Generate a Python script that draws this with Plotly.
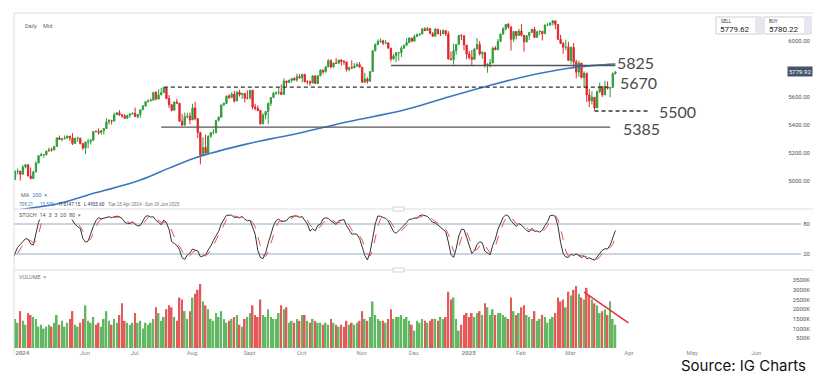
import numpy as np
import pandas as pd
import plotly.graph_objects as go

# ---------------- data ----------------
HOLIDAYS = ["2024-05-27", "2024-06-19", "2024-07-04", "2024-09-02", "2024-11-28",
            "2024-12-25", "2025-01-01", "2025-01-09", "2025-01-20", "2025-02-17"]
FIRST_DAY = "2024-04-01"
LAST_DAY = "2025-03-25"
VIEW_START = "2024-04-23"

CLOSE = [
    5243, 5205, 5211, 5147, 5204, 5202, 5209, 5161, 5199, 5123, 5061, 5051, 5022, 5011, 4967, 5010,
    5070, 5071, 5048, 5100, 5116, 5035,
    5018, 5064, 5128, 5181, 5187, 5188, 5214, 5223, 5221, 5247, 5308, 5297, 5303, 5308, 5321, 5307, 5268, 5305, 5306, 5267, 5235, 5278,
    5283, 5291, 5354, 5353, 5347, 5360, 5375, 5421, 5434, 5431, 5473, 5487, 5473, 5465, 5448, 5469, 5478, 5483, 5460,
    5475, 5509, 5537, 5567, 5572, 5577, 5633, 5585, 5615, 5631, 5667, 5589, 5545, 5505, 5564, 5555, 5427, 5399, 5459, 5464, 5436, 5522,
    5446, 5347, 5186, 5240, 5199, 5319, 5344, 5344, 5434, 5455, 5543, 5554, 5608, 5597, 5620, 5571, 5635, 5617, 5626, 5592, 5592, 5648,
    5528, 5520, 5503, 5408, 5471, 5496, 5554, 5596, 5626, 5634, 5634, 5618, 5714, 5703, 5719, 5732, 5722, 5745, 5738, 5762,
    5709, 5709, 5700, 5751, 5696, 5751, 5792, 5780, 5815, 5859, 5815, 5842, 5841, 5864, 5853, 5851, 5797, 5809, 5808, 5823, 5832, 5813, 5705,
    5729, 5712, 5782, 5929, 5973, 5996, 6001, 5984, 5985, 5949, 5871, 5894, 5917, 5917, 5949, 5969, 5988, 6021, 5999, 6032,
    6047, 6050, 6087, 6075, 6090, 6053, 6034, 6085, 6051, 6051, 6074, 6051, 5872, 5867, 5931, 5975, 6040, 6038, 5971, 5907, 5882,
    5869, 5942, 5975, 5909, 5918, 5827, 5836, 5843, 5950, 5937, 5997, 6049, 6086, 6119, 6101, 6012, 6068, 6039, 6071, 6041,
    5994, 6038, 6061, 6084, 6026, 6066, 6069, 6052, 6115, 6115, 6129, 6144, 6118, 6013, 5983, 5955, 5956, 5861, 5955,
    5850, 5778, 5842, 5739, 5770, 5615, 5572, 5599, 5522, 5639, 5675, 5615, 5675, 5663, 5668, 5767, 5780,
]
HIGH = [
    5264, 5208, 5229, 5256, 5216, 5216, 5224, 5179, 5211, 5193, 5150, 5075, 5078, 5049, 5019, 5039,
    5076, 5089, 5057, 5114, 5123, 5110,
    5096, 5073, 5140, 5181, 5200, 5191, 5215, 5239, 5239, 5250, 5311, 5325, 5306, 5325, 5324, 5315, 5342, 5311, 5315, 5282, 5265, 5280,
    5302, 5299, 5355, 5362, 5376, 5362, 5376, 5448, 5441, 5433, 5488, 5490, 5506, 5478, 5478, 5472, 5483, 5491, 5524,
    5479, 5510, 5539, 5571, 5583, 5590, 5635, 5642, 5656, 5666, 5669, 5622, 5614, 5535, 5566, 5586, 5537, 5479, 5488, 5487, 5489, 5551,
    5566, 5403, 5312, 5312, 5330, 5327, 5351, 5371, 5434, 5463, 5546, 5562, 5608, 5620, 5633, 5644, 5642, 5651, 5628, 5628, 5647, 5651,
    5651, 5551, 5540, 5509, 5484, 5497, 5561, 5600, 5637, 5637, 5670, 5690, 5734, 5716, 5725, 5735, 5741, 5767, 5764, 5765,
    5758, 5720, 5718, 5753, 5740, 5757, 5797, 5795, 5822, 5871, 5870, 5846, 5878, 5866, 5868, 5864, 5843, 5817, 5862, 5843, 5848, 5850, 5775,
    5772, 5741, 5783, 5937, 5983, 6012, 6018, 6009, 6008, 5993, 5930, 5908, 5919, 5921, 5963, 5973, 6020, 6025, 6021, 6045,
    6053, 6053, 6089, 6099, 6100, 6088, 6065, 6093, 6079, 6079, 6085, 6057, 6070, 5925, 5982, 5979, 6041, 6049, 6007, 5941, 5929,
    5936, 5949, 6021, 6000, 5927, 5897, 5838, 5871, 5960, 5964, 6014, 6051, 6100, 6119, 6128, 6018, 6071, 6062, 6087, 6121,
    6023, 6042, 6062, 6084, 6101, 6073, 6076, 6064, 6116, 6127, 6130, 6147, 6134, 6119, 6044, 5992, 6009, 5994, 5960,
    5986, 5866, 5860, 5812, 5783, 5706, 5656, 5642, 5598, 5645, 5704, 5670, 5716, 5711, 5670, 5775, 5783,
]
LOW = [
    5229, 5184, 5185, 5146, 5157, 5196, 5160, 5139, 5158, 5118, 5059, 5039, 5008, 5001, 4954, 4991,
    5028, 5047, 5003, 5074, 5089, 5035,
    5012, 5013, 5095, 5143, 5178, 5166, 5180, 5210, 5209, 5224, 5264, 5296, 5284, 5297, 5302, 5286, 5257, 5278, 5280, 5262, 5222, 5192,
    5235, 5261, 5303, 5346, 5331, 5330, 5332, 5395, 5403, 5403, 5421, 5474, 5465, 5452, 5447, 5447, 5452, 5475, 5460,
    5446, 5451, 5510, 5530, 5562, 5574, 5587, 5576, 5596, 5614, 5639, 5584, 5522, 5497, 5518, 5554, 5426, 5391, 5430, 5448, 5405, 5492,
    5434, 5306, 5119, 5193, 5196, 5233, 5310, 5333, 5366, 5425, 5497, 5535, 5551, 5585, 5591, 5560, 5590, 5603, 5585, 5561, 5583, 5582,
    5511, 5503, 5498, 5403, 5434, 5441, 5406, 5536, 5604, 5615, 5614, 5615, 5672, 5674, 5705, 5703, 5716, 5709, 5730, 5704,
    5704, 5689, 5680, 5703, 5695, 5707, 5752, 5764, 5775, 5815, 5804, 5809, 5840, 5847, 5824, 5830, 5782, 5784, 5800, 5818, 5814, 5812, 5704,
    5723, 5696, 5722, 5871, 5947, 5971, 5987, 5970, 5981, 5946, 5853, 5866, 5850, 5860, 5885, 5945, 5973, 5993, 5993, 6023,
    6027, 6035, 6062, 6070, 6077, 6049, 6030, 6060, 6051, 6035, 6059, 6036, 5868, 5865, 5832, 5902, 5982, 6007, 5933, 5869, 5868,
    5829, 5888, 5960, 5897, 5874, 5810, 5773, 5811, 5884, 5938, 5984, 6006, 6076, 6075, 6088, 5932, 5994, 6012, 6040, 6031,
    5924, 5990, 6007, 6060, 6020, 6048, 6042, 6003, 6070, 6107, 6108, 6111, 6084, 6008, 5978, 5909, 5933, 5858, 5837,
    5810, 5733, 5745, 5732, 5667, 5565, 5529, 5547, 5505, 5562, 5628, 5601, 5622, 5652, 5598, 5714, 5760,
]
# volume (thousands) for the visible days, 23 Apr 2024 onward
VOLUME_K = [
    1500, 1300, 1900, 1400, 1200, 1800,
    1700, 1600, 1500, 1100, 1200, 1000, 1100, 1200, 1100, 1300, 1700, 1200, 1400, 1100, 1300, 1500, 1900, 1200, 1100, 1300, 1500, 2200,
    1400, 1300, 1600, 1200, 1300, 1100, 1500, 1900, 1400, 1200, 1500, 1300, 1700, 2300, 1400, 1300, 1200, 1300, 1800,
    1300, 1400, 1000, 1300, 1200, 1300, 1500, 2100, 1800, 1400, 1600, 2000, 2200, 2100, 1600, 1400, 2600, 2500, 1900, 1500, 1900, 2600,
    2800, 3000, 3300, 2400, 2200, 2000, 1500, 1400, 1800, 1600, 1900, 1500, 1300, 1400, 1500, 1600, 1700, 1200, 1100, 1500, 1600, 1800,
    2200, 1700, 1600, 2500, 1700, 1600, 2000, 1600, 1500, 1500, 1800, 2200, 2000, 2100, 1300, 1400, 1300, 1500, 1400, 1700,
    1700, 1400, 1300, 1500, 1400, 1300, 1300, 1200, 1300, 1200, 1500, 1300, 1200, 1100, 1200, 1100, 1400, 1200, 1300, 1200, 1300, 1400, 1900,
    1500, 1400, 1600, 2400, 1700, 1500, 1400, 1400, 1300, 1500, 2000, 1500, 1600, 1600, 1700, 1500, 1600, 1400, 1200, 900,
    1400, 1300, 1500, 1400, 1300, 1400, 1500, 1500, 1400, 1600, 1500, 1600, 2900, 2500, 2600, 1500, 900, 1200, 1700, 1800, 1600,
    1800, 1600, 1800, 1900, 1700, 2300, 2100, 1700, 2000, 1700, 1800, 1800, 1700, 1600, 1500, 2600, 1900, 1700, 1800, 2100,
    2200, 1700, 1600, 1500, 1900, 1400, 1500, 1700, 1600, 1300, 1500, 1600, 1800, 2600, 2400, 2500, 2100, 2900, 2700,
    3000, 3200, 2800, 2600, 2500, 3100, 2700, 2500, 2300, 2200, 1800, 1900, 2000, 1700, 2400, 1500, 1200,
]
# 200-day moving average
MA_DATES = ["2024-04-23", "2024-05-03", "2024-05-15", "2024-06-03", "2024-07-02", "2024-07-18",
            "2024-08-01", "2024-08-29", "2024-09-27", "2024-10-24", "2024-11-22", "2024-12-18",
            "2025-01-08", "2025-02-03", "2025-02-27", "2025-03-13", "2025-03-25"]
MA_VALUES = [4790, 4812, 4836, 4900, 5007, 5092, 5165, 5265, 5343, 5425, 5507, 5600,
             5668, 5745, 5805, 5826, 5836]

# annotated levels: (value, start date, end date, dashed)
LEVELS = [(5825, "2024-11-15", "2025-03-25", False),
          (5670, "2024-07-16", "2025-03-20", True),
          (5500, "2025-03-13", "2025-04-11", True),
          (5385, "2024-07-15", "2025-03-21", False)]
LEVEL_LABELS = [("5825", "2025-03-25", 5825, 3),
                ("5670", "2025-03-26", 5670, 5),
                ("5500", "2025-04-16", 5500, 0),
                ("5385", "2025-03-27", 5385, -1)]
VOL_TREND = [("2025-03-07", 2880), ("2025-04-01", 1290)]

SELL, BUY, LAST = "5779.62", "5780.22", 5779.92
PRICE_TICKS = [5000, 5200, 5400, 5600, 6000]   # 5800 sits under the last-price tag
VOL_TICKS = [500, 1000, 1500, 2000, 2500, 3000, 3500]
FUTURE_TICKS = [("Apr", 235.2), ("May", 259.4), ("Jun", 283.9)]

# ---------------- derived ----------------
dates = pd.bdate_range(FIRST_DAY, LAST_DAY)
dates = dates[~dates.isin(pd.to_datetime(HOLIDAYS))]
n_pre = int((dates < pd.Timestamp(VIEW_START)).sum())
idx = np.arange(len(dates)) - n_pre

C = np.array(CLOSE, float)
O = np.r_[C[0], C[:-1]]
Hh = np.maximum(np.array(HIGH, float), np.maximum(O, C))
Ll = np.minimum(np.array(LOW, float), np.minimum(O, C))


def pos(d):
    d = pd.Timestamp(d)
    if d <= dates[-1]:
        return float(np.searchsorted(dates, d) - n_pre)
    extra = np.busday_count(dates[-1].date(), d.date(), holidays=["2025-04-18"])
    return float(len(dates) - 1 - n_pre + extra)


hh = pd.Series(Hh).rolling(14).max()
ll = pd.Series(Ll).rolling(14).min()
raw = 100 * (pd.Series(C) - ll) / (hh - ll)
K = raw.rolling(3).mean()
D = K.rolling(3).mean()

vis = idx >= 0
vol_x = idx[vis]
vol_col = np.where(C[vis] >= O[vis], "#62b862", "#e25a5a")

# ---------------- layout geometry ----------------
W, Hgt = 825, 377
Lp, Rp, Tp, Bp = 14, 813, 13, 348


def px(x):
    return (x - Lp) / (Rp - Lp)


def py(y):
    return (Bp - y) / (Bp - Tp)


x_lo, x_hi = -0.4, 305.7
GREEN, RED = "#2f9e3a", "#e0262b"

fig = go.Figure()
fig.add_trace(go.Candlestick(
    x=idx, open=O, high=Hh, low=Ll, close=C,
    increasing=dict(line=dict(color=GREEN, width=1), fillcolor=GREEN),
    decreasing=dict(line=dict(color=RED, width=1), fillcolor=RED),
    whiskerwidth=0, xaxis="x", yaxis="y", showlegend=False, hoverinfo="skip"))
fig.add_trace(go.Scatter(
    x=[pos(d) for d in MA_DATES], y=MA_VALUES, mode="lines",
    line=dict(color="#3d75c0", width=1.6, shape="spline"),
    xaxis="x", yaxis="y", showlegend=False, hoverinfo="skip"))
fig.add_trace(go.Scatter(x=idx, y=K, mode="lines", line=dict(color="#333333", width=1),
                         xaxis="x2", yaxis="y2", showlegend=False, hoverinfo="skip"))
fig.add_trace(go.Scatter(x=idx, y=D, mode="lines", line=dict(color="#e05555", width=1, dash="dash"),
                         xaxis="x2", yaxis="y2", showlegend=False, hoverinfo="skip"))
fig.add_trace(go.Bar(x=vol_x, y=np.array(VOLUME_K)[: len(vol_x)], marker=dict(color=vol_col, line=dict(width=0)),
                     xaxis="x3", yaxis="y3", showlegend=False, hoverinfo="skip"))

shapes = []
for val, d0, d1, dashed in LEVELS:
    shapes.append(dict(type="line", xref="x", yref="y", x0=pos(d0), x1=pos(d1), y0=val, y1=val,
                       line=dict(color="#333333" if dashed else "#555555", width=1.3,
                                 dash="4px,3px" if dashed else "solid")))
# stoch 20/80 levels
for lv in (20, 80):
    shapes.append(dict(type="line", xref="paper", yref="y2", x0=0, x1=0.985, y0=lv, y1=lv,
                       line=dict(color="#93aac6", width=1.2), layer="below"))
# volume trend line
shapes.append(dict(type="line", xref="x3", yref="y3",
                   x0=pos(VOL_TREND[0][0]), y0=VOL_TREND[0][1],
                   x1=pos(VOL_TREND[1][0]), y1=VOL_TREND[1][1],
                   line=dict(color="#e03535", width=1.5)))
# frame / separators
FR = "#dedede"
for yy in (Tp, 209, 270):
    shapes.append(dict(type="line", xref="paper", yref="paper", x0=0, x1=1, y0=py(yy), y1=py(yy),
                       line=dict(color=FR, width=1)))
shapes.append(dict(type="line", xref="paper", yref="paper", x0=0, x1=0, y0=py(355), y1=1,
                   line=dict(color=FR, width=1)))
# divider handles
for yy in (209, 270):
    shapes.append(dict(type="rect", xref="paper", yref="paper", x0=px(393), x1=px(404),
                       y0=py(yy + 2), y1=py(yy - 2), line=dict(color="#c8c8c8", width=0.8),
                       fillcolor="white"))
# SELL / BUY boxes
for x0, x1 in ((716, 762), (764, 811)):
    shapes.append(dict(type="rect", xref="paper", yref="paper", x0=px(x0), x1=px(x1),
                       y0=py(34), y1=py(17), line=dict(color="#cfcfcf", width=1), fillcolor="white"))
    shapes.append(dict(type="rect", xref="paper", yref="paper", x0=px(x1 - 7), x1=px(x1),
                       y0=py(34), y1=py(17), line=dict(width=0), fillcolor="#e4e8ee"))

ann = []


def txt(x, y, s, size=6, color="#666666", anchor="left", **kw):
    ann.append(dict(xref="paper", yref="paper", x=px(x), y=py(y), text=s, showarrow=False,
                    xanchor=anchor, yanchor="middle", font=dict(size=size, color=color), **kw))


txt(23, 26, "Daily", 5.5)
txt(41, 26, "Mid", 5.5)
txt(719, 21, "SELL", 4.5, "#333333")
txt(718, 29, SELL, 8, "#222222")
txt(767, 21, "BUY", 4.5, "#333333")
txt(767, 29, BUY, 8, "#222222")
txt(19, 195, "MA  <span style='color:#3b7dc4'>200</span>  ×", 5.5)
txt(17, 204, "708.21", 4.6, "#3b7dc4")
txt(38, 204, "15.53%", 4.6, "#3b7dc4")
txt(57, 204, "H 6147.15", 4.6, "#2a3550")
txt(82, 204, "L 4953.60", 4.6, "#2a3550")
txt(106, 204, "Tue 23 Apr 2024 - Sun 29 Jun 2025", 4.6, "#777777")
txt(17, 215, "STOCH  14  3  3  20  80  ×", 5.5, "#555555", bgcolor="white")
txt(17, 277, "VOLUME  ×", 5.5, "#777777")
txt(808, 366, "Source: IG Charts", 15, "#111111", anchor="right")
ann[-1]["font"]["family"] = "Inter"

for s, d, val, shift in LEVEL_LABELS:
    ann.append(dict(xref="x", yref="y", x=pos(d), y=val, yshift=shift, text=s, showarrow=False,
                    xanchor="left", yanchor="middle",
                    font=dict(size=16, color="#4a4a4a", family="Lato")))
# last price tag
ann.append(dict(xref="paper", yref="y", x=1, y=LAST, text=f"{LAST:.2f}", showarrow=False,
                xanchor="right", yanchor="middle", bgcolor="#45546f",
                font=dict(size=6, color="white"), borderpad=1))

# x ticks
tickvals, ticktext = [4 - 1.2], ["<b>2024</b>"]
month_first = pd.Series(idx, index=dates).groupby([dates.year, dates.month]).first()
for (yr, mo), i in month_first.items():
    if i < 20:
        continue
    if mo == 1:
        lab = f"<b>{yr}</b>"
    elif mo == 9:
        lab = "Sept"
    else:
        lab = pd.Timestamp(year=yr, month=mo, day=1).strftime("%b")
    tickvals.append(i - 1.2)
    ticktext.append(lab)
for lab, p in FUTURE_TICKS:
    tickvals.append(p)
    ticktext.append(lab)

d_price = [py(209), 1.0]
d_stoch = [py(270), py(209)]
d_vol = [0.0, py(270)]

xcommon = dict(range=[x_lo, x_hi], showgrid=False, zeroline=False, showline=False, ticks="")
fig.update_layout(
    width=W, height=Hgt, margin=dict(l=Lp, r=W - Rp, t=Tp, b=Hgt - Bp),
    paper_bgcolor="white", plot_bgcolor="white",
    font=dict(family="Roboto", size=6, color="#555555"),
    bargap=0.35,
    xaxis=dict(domain=[0, 1], anchor="y", showticklabels=False, rangeslider=dict(visible=False), **xcommon),
    xaxis2=dict(domain=[0, 1], anchor="y2", matches="x", showticklabels=False, **xcommon),
    xaxis3=dict(domain=[0, 1], anchor="y3", matches="x", showticklabels=True,
                tickvals=tickvals, ticktext=ticktext, tickfont=dict(size=6, color="#8a8a8a"),
                **xcommon),
    yaxis=dict(domain=d_price, anchor="x", range=[4800, 6200], side="right",
               ticklabelposition="inside", tickvals=PRICE_TICKS,
               ticktext=[f"{v:.2f}" for v in PRICE_TICKS], showgrid=False, zeroline=False,
               tickfont=dict(size=6, color="#555555")),
    yaxis2=dict(domain=d_stoch, anchor="x2", range=[-12, 110], side="right",
                ticklabelposition="inside", tickvals=[20, 80], showgrid=False, zeroline=False,
                tickfont=dict(size=6, color="#555555")),
    yaxis3=dict(domain=d_vol, anchor="x3", range=[0, 4020], side="right",
                ticklabelposition="inside", tickvals=VOL_TICKS,
                ticktext=[f"{v}K" for v in VOL_TICKS], showgrid=False, zeroline=False,
                tickfont=dict(size=6, color="#555555")),
    shapes=shapes, annotations=ann,
)

fig.write_html("out.html")
